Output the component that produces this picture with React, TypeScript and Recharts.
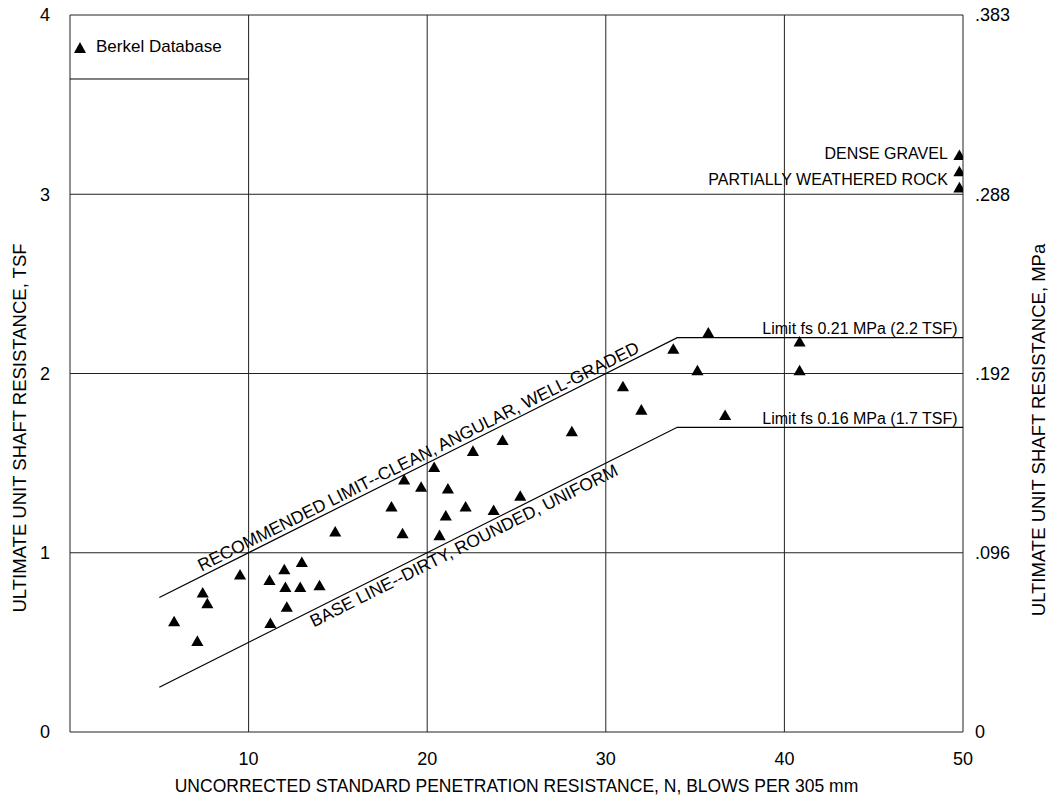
import React from 'react';
import { CartesianGrid, Legend, ReferenceLine, Scatter, ScatterChart, XAxis, YAxis } from 'recharts';

const FONT = '"Liberation Sans", Arial, Helvetica, sans-serif';

// Berkel database points: N (blows) vs ultimate unit shaft resistance (TSF)
const berkelN = [
  5.83, 7.13, 7.43, 7.69, 9.52, 11.17, 11.22, 12.0, 12.06, 12.14, 12.89, 12.98, 13.97, 14.85,
  18.0, 18.62, 18.71, 19.66, 20.39, 20.69, 21.04, 21.16, 22.15, 22.56, 23.72, 24.22, 25.21,
  28.1, 30.96, 31.99, 33.78, 35.13, 35.74, 36.68, 40.85, 40.85, 49.8, 49.8, 49.8
];
const berkelTsf = [
  0.61, 0.5, 0.77, 0.71, 0.87, 0.84, 0.6, 0.9, 0.8, 0.69, 0.8, 0.94, 0.81, 1.11,
  1.25, 1.1, 1.4, 1.36, 1.47, 1.09, 1.2, 1.35, 1.25, 1.56, 1.23, 1.62, 1.31,
  1.67, 1.92, 1.79, 2.13, 2.01, 2.22, 1.76, 2.17, 2.01, 3.21, 3.12, 3.03
];

// design lines
const limitN = [5, 34, 50];
const limitTsf = [0.75, 2.2, 2.2];
const baseN = [5, 34, 50];
const baseTsf = [0.25, 1.7, 1.7];

// axis ticks
const xTicks = [0, 10, 20, 30, 40, 50];
const tsfTicks = [0, 1, 2, 3, 4];
const mpaTickLabels = ['0', '.096', '.192', '.288', '.383'];

// annotations
const noteText = [
  'RECOMMENDED LIMIT--CLEAN, ANGULAR, WELL-GRADED',
  'BASE LINE--DIRTY, ROUNDED, UNIFORM',
  'Limit fs 0.21 MPa (2.2 TSF)',
  'Limit fs 0.16 MPa (1.7 TSF)',
  'DENSE GRAVEL',
  'PARTIALLY WEATHERED ROCK'
];
const noteN = [19.75, 21.8, 49.7, 49.7, 49.15, 49.15];
const noteTsf = [1.4875, 1.09, 2.2, 1.7, 3.23, 3.085];
const noteStyle = [
  { anchor: 'middle', angle: -26.6, dy: -4, size: 17.5 },
  { anchor: 'middle', angle: -26.6, dy: 16, size: 17.5 },
  { anchor: 'end', angle: 0, dy: -4, size: 16 },
  { anchor: 'end', angle: 0, dy: -3, size: 16 },
  { anchor: 'end', angle: 0, dy: 6, size: 16 },
  { anchor: 'end', angle: 0, dy: 6, size: 16 }
];

const legendBoxTsf = 3.643;

const berkelData = berkelN.map((n, i) => ({ n, tsf: berkelTsf[i] }));
const limitData = limitN.map((n, i) => ({ n, tsf: limitTsf[i] }));
const baseData = baseN.map((n, i) => ({ n, tsf: baseTsf[i] }));
const noteData = noteText.map((text, i) => ({ n: noteN[i], tsf: noteTsf[i], text, ...noteStyle[i] }));

const NoteShape = (props: any) => {
  const { cx, cy, payload } = props;
  const rot = payload.angle ? `rotate(${payload.angle} ${cx} ${cy})` : undefined;
  return (
    <text
      x={cx}
      y={cy}
      dy={payload.dy}
      transform={rot}
      textAnchor={payload.anchor}
      fontSize={payload.size}
      fontFamily={FONT}
      fill="#000"
    >
      {payload.text}
    </text>
  );
};

const NoMarker = () => <g />;

const LeftTitle = (props: any) => {
  const { viewBox } = props;
  const x = viewBox.x + 19;
  const y = 428;
  return (
    <text x={x} y={y} transform={`rotate(-90 ${x} ${y})`} textAnchor="middle" dominantBaseline="central"
      fontSize={18.5} fontFamily={FONT} fill="#000">
      ULTIMATE UNIT SHAFT RESISTANCE, TSF
    </text>
  );
};

const RightTitle = (props: any) => {
  const { viewBox } = props;
  const x = viewBox.x + 75;
  const y = 430;
  return (
    <text x={x} y={y} transform={`rotate(-90 ${x} ${y})`} textAnchor="middle" dominantBaseline="central"
      fontSize={18.5} fontFamily={FONT} fill="#000">
      ULTIMATE UNIT SHAFT RESISTANCE, MPa
    </text>
  );
};

const BottomTitle = (props: any) => {
  const { viewBox } = props;
  return (
    <text x={viewBox.x + viewBox.width / 2} y={viewBox.y + 60} textAnchor="middle"
      fontSize={17.5} fontFamily={FONT} fill="#000">
      UNCORRECTED STANDARD PENETRATION RESISTANCE, N, BLOWS PER 305 mm
    </text>
  );
};

const LegendContent = (props: any) => {
  const items = (props.payload || []).filter((p: any) => p.type !== 'none');
  return (
    <div style={{ fontFamily: FONT, fontSize: 17, color: '#000' }}>
      {items.map((item: any) => (
        <div key={item.value} style={{ display: 'flex', alignItems: 'center' }}>
          <svg width={12} height={11}>
            <polygon points="6,0 12,11 0,11" fill="#000" />
          </svg>
          <span style={{ marginLeft: 10 }}>{item.value}</span>
        </div>
      ))}
    </div>
  );
};

const tickStyle = { fill: '#000', fontSize: 18, fontFamily: FONT };

const App: React.FC = () => {
  return (
    <div style={{ position: 'absolute', left: 0, top: 0 }}>
      <ScatterChart width={1049} height={799} margin={{ top: 15, right: 0, bottom: 0, left: 0 }}>
        <CartesianGrid yAxisId="left" stroke="#222" strokeWidth={1} />
        <XAxis
          type="number"
          dataKey="n"
          domain={[0, 50]}
          ticks={xTicks}
          tickFormatter={(v: number) => (v === 0 ? '' : String(v))}
          allowDataOverflow
          axisLine={false}
          tickLine={false}
          tickSize={0}
          tickMargin={20}
          height={67}
          tick={tickStyle}
          label={<BottomTitle />}
        />
        <YAxis
          yAxisId="left"
          type="number"
          dataKey="tsf"
          domain={[0, 4]}
          ticks={tsfTicks}
          allowDataOverflow
          axisLine={false}
          tickLine={false}
          tickSize={0}
          tickMargin={20}
          width={70}
          tick={tickStyle}
          label={<LeftTitle />}
        />
        <YAxis
          yAxisId="right"
          orientation="right"
          type="number"
          dataKey="tsf"
          domain={[0, 4]}
          ticks={tsfTicks}
          tickFormatter={(v: number) => mpaTickLabels[tsfTicks.indexOf(v)]}
          allowDataOverflow
          axisLine={false}
          tickLine={false}
          tickSize={0}
          tickMargin={12}
          width={86}
          tick={tickStyle}
          label={<RightTitle />}
        />
        <ReferenceLine
          yAxisId="left"
          segment={[{ x: 0, y: legendBoxTsf }, { x: 10, y: legendBoxTsf }]}
          stroke="#000"
          strokeWidth={1}
        />
        <Scatter
          yAxisId="left"
          name="limit"
          data={limitData}
          line={{ stroke: '#000', strokeWidth: 1.2 }}
          shape={<NoMarker />}
          legendType="none"
          isAnimationActive={false}
        />
        <Scatter
          yAxisId="left"
          name="base"
          data={baseData}
          line={{ stroke: '#000', strokeWidth: 1.2 }}
          shape={<NoMarker />}
          legendType="none"
          isAnimationActive={false}
        />
        <Scatter
          yAxisId="right"
          name="notes"
          data={noteData}
          shape={<NoteShape />}
          legendType="none"
          isAnimationActive={false}
        />
        <Scatter
          yAxisId="left"
          name="Berkel Database"
          data={berkelData}
          fill="#000"
          shape="triangle"
          legendType="triangle"
          isAnimationActive={false}
        />
        <Legend
          layout="vertical"
          align="center"
          verticalAlign="middle"
          wrapperStyle={{ left: 74, top: 37, width: 'auto' }}
          content={<LegendContent />}
        />
      </ScatterChart>
    </div>
  );
};

export default App;
